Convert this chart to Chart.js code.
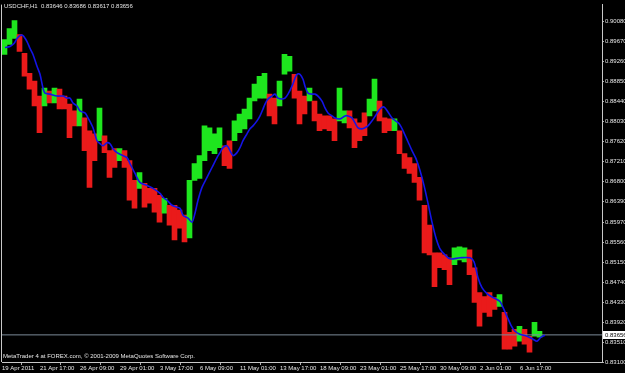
<!DOCTYPE html>
<html>
<head>
<meta charset="utf-8">
<script src="https://cdn.jsdelivr.net/npm/chart.js@4.4.0/dist/chart.umd.min.js"></script>
<style>
  html, body { margin: 0; padding: 0; background: #000; }
  #wrap { width: 625px; height: 373px; }
</style>
</head>
<body>
<div id="wrap"><canvas id="fx" width="625" height="373"></canvas></div>
<script>
// USDCHF H1, 19 Apr - 7 Jun 2011. Each bar block = 5 hourly bars (high/low range)
const barHigh = [
  0.89714,0.89938,0.90100,0.89815,0.89429,0.89022,0.88859,0.88554,0.88717,0.88656,
  0.88717,0.88696,0.88554,0.88391,0.88249,0.88493,0.88106,0.87842,0.87780,0.88310,
  0.87740,0.87435,0.87475,0.87475,0.87435,0.87231,0.86824,0.86987,0.86763,0.86661,
  0.86661,0.86519,0.86458,0.86315,0.86315,0.86214,0.86112,0.86824,0.87170,0.87333,
  0.87943,0.87903,0.87780,0.87903,0.87536,0.87638,0.88045,0.88187,0.88289,0.88513,
  0.88798,0.88961,0.89022,0.88594,0.88513,0.88859,0.89408,0.89368,0.89001,0.88656,
  0.88554,0.88717,0.88452,0.88187,0.88147,0.88147,0.88086,0.88717,0.88249,0.88249,
  0.88086,0.88004,0.88208,0.88493,0.88900,0.88452,0.88106,0.88086,0.88086,0.87842,
  0.87373,0.87292,0.87170,0.86885,0.86315,0.85908,0.85338,0.85338,0.85298,0.85237,
  0.85440,0.85461,0.85440,0.85400,0.85033,0.84524,0.84443,0.84524,0.84423,0.84484,
  0.84117,0.83710,0.83772,0.83833,0.83772,0.83629,0.83914,0.83731
];
const barLow = [
  0.89408,0.89612,0.89734,0.89470,0.88961,0.88696,0.88350,0.87801,0.88350,0.88411,
  0.88411,0.88289,0.88289,0.87699,0.87943,0.87943,0.87435,0.86682,0.87231,0.87638,
  0.87394,0.86885,0.87089,0.87231,0.87089,0.86417,0.86254,0.86661,0.86275,0.86356,
  0.86173,0.85969,0.86152,0.85908,0.85603,0.85847,0.85562,0.85644,0.86824,0.86865,
  0.87231,0.87435,0.87373,0.87496,0.87129,0.87068,0.87638,0.87801,0.87882,0.88086,
  0.88452,0.88513,0.88513,0.88147,0.87984,0.88350,0.89001,0.89063,0.88513,0.87984,
  0.88187,0.88452,0.88045,0.87842,0.87882,0.87842,0.87638,0.88045,0.88004,0.87903,
  0.87496,0.87638,0.87740,0.88147,0.88249,0.88045,0.87801,0.87842,0.87842,0.87373,
  0.87068,0.86966,0.86783,0.86417,0.85338,0.85298,0.84647,0.85033,0.84993,0.84687,
  0.85094,0.85196,0.85155,0.84891,0.84321,0.83833,0.84117,0.84036,0.84179,0.84240,
  0.83365,0.83365,0.83426,0.83527,0.83466,0.83303,0.83629,0.83609
];
// 1 = up (green), 0 = down (red)
const barTrend = [
  1,1,1,0,0,0,0,0,1,0, 1,0,0,0,0,1,0,0,0,1, 0,0,0,1,0,0,0,1,0,0,
  0,0,1,0,0,0,0,1,1,1, 1,1,1,1,0,0,1,1,1,1, 1,1,1,0,0,1,1,1,0,0,
  0,1,0,0,0,0,0,1,1,0, 0,0,0,1,1,0,0,0,1,0, 0,0,0,0,0,0,0,0,0,0,
  1,1,1,0,0,0,0,0,0,1, 0,0,0,1,0,0,1,1
];
const barsPerBlock = 5;

// moving average (blue), hour index from left edge
const maHour = [
  3,8,12,15,18,21,25,28,31,35, 38,41,43,48,55,61,65,68,71,75,
  78,83,86,91,95,98,101,105,108,111, 115,121,125,128,133,138,145,151,158,161,
  165,170,175,178,181,186,190,193,196,200, 205,210,215,218,221,225,228,231,235,238,
  241,245,248,251,255,258,261,263,266,270, 273,276,280,283,286,290,293,295,298,301,
  303,306,310,313,316,320,323,326,330,333, 338,343,346,350,353,356,360,363,366,370,
  374,378,382,386,390,395,398,402,406,410, 414,418,422,426,430,434,438,443,448,458,
  468,472,476,480,485,491,498,501,505,509, 513,518,525,531,535,539,543
];
const maPrice = [
  0.89551,0.89571,0.89632,0.89734,0.89795,0.89795,0.89673,0.89531,0.89408,0.89164,
  0.89001,0.88717,0.88615,0.88594,0.88554,0.88554,0.88513,0.88513,0.88411,0.88350,
  0.88249,0.88208,0.88106,0.87903,0.87638,0.87577,0.87536,0.87597,0.87577,0.87475,
  0.87394,0.87333,0.87292,0.87170,0.86966,0.86783,0.86722,0.86661,0.86559,0.86478,
  0.86417,0.86315,0.86275,0.86254,0.86112,0.86051,0.85969,0.86152,0.86417,0.86682,
  0.86885,0.87089,0.87292,0.87394,0.87496,0.87536,0.87435,0.87333,0.87394,0.87496,
  0.87638,0.87780,0.87882,0.87943,0.88045,0.88147,0.88289,0.88391,0.88493,0.88554,
  0.88594,0.88513,0.88493,0.88513,0.88594,0.88757,0.88920,0.89001,0.89001,0.88900,
  0.88757,0.88615,0.88594,0.88594,0.88554,0.88452,0.88310,0.88208,0.88147,0.88106,
  0.88086,0.88147,0.88147,0.88106,0.88004,0.87903,0.87882,0.87903,0.87943,0.88045,
  0.88167,0.88289,0.88330,0.88228,0.88106,0.88025,0.87964,0.87801,0.87618,0.87435,
  0.87272,0.87028,0.86722,0.86356,0.85969,0.85644,0.85420,0.85298,0.85216,0.85237,
  0.85237,0.85155,0.84830,0.84626,0.84504,0.84423,0.84341,0.84219,0.84036,0.83853,
  0.83731,0.83670,0.83629,0.83568,0.83527,0.83609,0.83649
];

const lastBid = 0.83656;
const headerText = "USDCHF,H1  0.83646 0.83686 0.83617 0.83656";
const footerText = "MetaTrader 4 at FOREX.com, \u00a9 2001-2009 MetaQuotes Software Corp.";

const priceTicks = [0.9008,0.8967,0.8926,0.8885,0.8844,0.8803,0.8762,0.8721,0.8680,
  0.8639,0.8597,0.8556,0.8515,0.8474,0.8433,0.8392,0.8351,0.8310];
const timeTickPos = [0,38,78,118,158,198,238,278,318,358,398,438,478,518];
const timeTickLabels = ["19 Apr 2011","21 Apr 17:00","26 Apr 09:00","29 Apr 01:00","3 May 17:00",
  "6 May 09:00","11 May 01:00","13 May 17:00","18 May 09:00","23 May 01:00","25 May 17:00",
  "30 May 09:00","2 Jun 01:00","6 Jun 17:00"];

const FONT = "'Liberation Sans', Arial, sans-serif";
const upCol = '#1ee61e', downCol = '#ea1a1a';

const barData = barHigh.map((h, i) => ({ x: i * barsPerBlock + barsPerBlock / 2, y: [barLow[i], h] }));
const barColors = barTrend.map(t => t ? upCol : downCol);
const maData = maHour.map((h, i) => ({ x: h, y: maPrice[i] }));

// frame, header/footer text, bid label
const mtDecor = {
  id: 'mtDecor',
  afterDraw(chart) {
    const c = chart.ctx, a = chart.chartArea, ys = chart.scales.y;
    c.save();
    c.strokeStyle = '#c8c8c8';
    c.lineWidth = 1;
    c.beginPath();
    c.moveTo(1.5, a.top); c.lineTo(1.5, a.bottom);
    c.stroke();

    c.font = '6px ' + FONT;
    c.fillStyle = '#e6e6e6';
    c.textBaseline = 'middle';
    c.textAlign = 'left';
    c.fillText(headerText, 4, 6);
    c.fillText(footerText, 3, 356);

    const by = Math.round(ys.getPixelForValue(lastBid));
    c.fillStyle = '#ffffff';
    c.fillRect(a.right + 1, by - 4, 24, 8);
    c.fillStyle = '#000000';
    c.fillText(lastBid.toFixed(5), a.right + 3, by);
    c.restore();
  }
};

new Chart(document.getElementById('fx'), {
  data: {
    datasets: [
      { type: 'line', data: maData, borderColor: '#1414e6', borderWidth: 1.6,
        pointRadius: 0, tension: 0.3, order: 0 },
      { type: 'line', data: [{ x: 0, y: lastBid }, { x: 600, y: lastBid }],
        borderColor: '#7c8a98', borderWidth: 1, pointRadius: 0, order: 1 },
      { type: 'bar', data: barData, backgroundColor: barColors, borderWidth: 0,
        barPercentage: 1, categoryPercentage: 1, grouped: false, order: 2 }
    ]
  },
  options: {
    responsive: false,
    devicePixelRatio: 1,
    animation: false,
    events: [],
    layout: { padding: { left: 2, top: 2, right: 0, bottom: 0 } },
    plugins: { legend: { display: false }, tooltip: { enabled: false } },
    scales: {
      x: {
        type: 'linear', min: 0, max: 600, offset: false,
        afterBuildTicks: s => { s.ticks = timeTickPos.map(v => ({ value: v })); },
        afterFit: s => { s.height = 11; },
        grid: { drawOnChartArea: false, drawTicks: true, tickLength: 3, color: '#b0b0b0' },
        border: { display: true, color: '#c8c8c8' },
        ticks: {
          autoSkip: false, maxRotation: 0, align: 'start', padding: 0,
          color: '#e6e6e6', font: { family: FONT, size: 6 },
          callback: (v, i) => timeTickLabels[i]
        }
      },
      y: {
        type: 'linear', position: 'right', min: 0.8310, max: 0.9043,
        afterBuildTicks: s => { s.ticks = priceTicks.map(v => ({ value: v })); },
        afterFit: s => { s.width = 23; },
        grid: { drawOnChartArea: false, drawTicks: true, tickLength: 2, color: '#b0b0b0' },
        border: { display: true, color: '#c8c8c8' },
        ticks: {
          autoSkip: false, padding: 1, color: '#e6e6e6', font: { family: FONT, size: 6 },
          callback: v => v.toFixed(5)
        }
      }
    }
  },
  plugins: [mtDecor]
});
</script>
</body>
</html>
